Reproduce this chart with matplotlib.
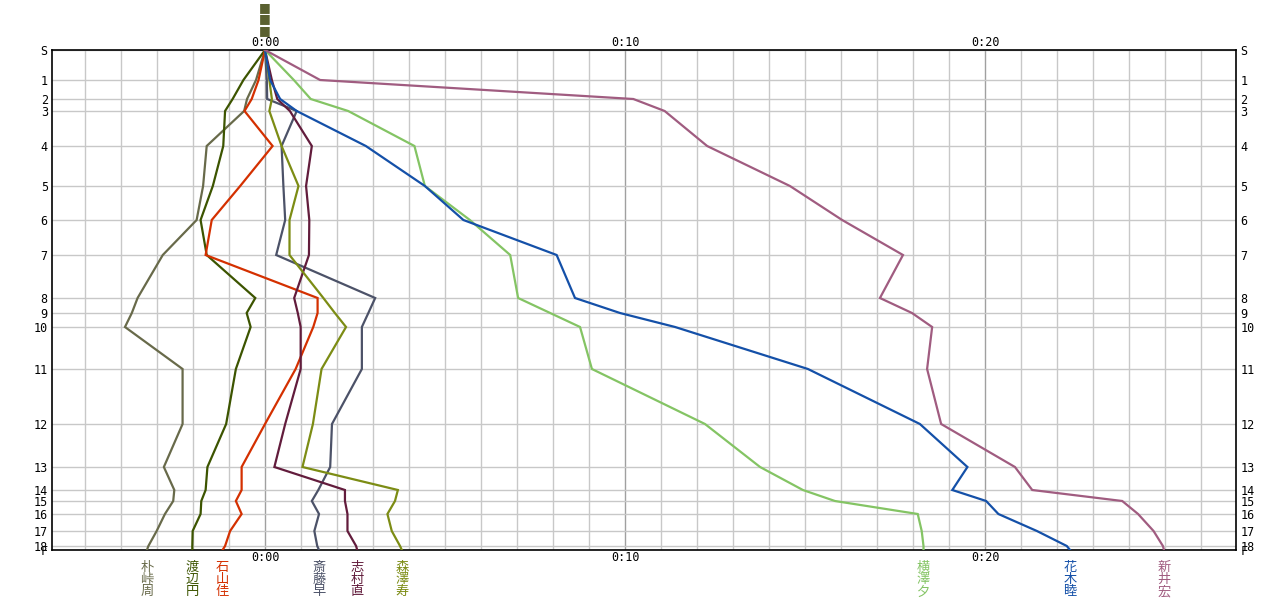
import matplotlib
matplotlib.use("Agg")
import matplotlib.pyplot as plt
import matplotlib.transforms as mtransforms
from matplotlib.ticker import MultipleLocator

# controls: label and cumulative position (leg-length scale, top = start)
ctrl_labels = ['S', '1', '2', '3', '4', '5', '6', '7', '8', '9', '10',
               '11', '12', '13', '14', '15', '16', '17', '18', 'F']
ctrl_pos = [0, 30, 49, 61, 96, 136, 170, 205, 248, 263, 277,
            319, 374, 417, 440, 451, 464, 481, 496, 500]

# runners: minutes behind/ahead of reference at each control
names = ['朴峠周', '渡辺円', '石山佳', '斎藤早', '志村直', '森澤寿', '横澤夕', '花木睦', '新井宏']
colors = ['#686a4a', '#3c5400', '#d43000', '#4c5268', '#621c3c',
          '#7c8c14', '#84c464', '#1450a8', '#a05c80']

bokutou = [0, -0.25, -0.5, -0.58, -1.62, -1.72, -1.9, -2.84, -3.54, -3.70, -3.89,
           -2.29, -2.29, -2.81, -2.52, -2.55, -2.78, -3.01, -3.24, -3.28]
watanabe = [0, -0.6, -0.9, -1.11, -1.16, -1.45, -1.79, -1.62, -0.27, -0.51, -0.40,
            -0.81, -1.08, -1.60, -1.65, -1.77, -1.79, -2.01, -2.02, -2.02]
ishiyama = [0, -0.18, -0.37, -0.57, 0.21, -0.69, -1.48, -1.65, 1.46, 1.46, 1.34,
            0.85, 0.0, -0.65, -0.65, -0.81, -0.65, -0.97, -1.11, -1.18]
saitou = [0, 0.05, 0.06, 0.88, 0.46, 0.51, 0.56, 0.31, 3.06, 2.87, 2.69,
          2.69, 1.86, 1.81, 1.48, 1.30, 1.50, 1.37, 1.45, 1.50]
shimura = [0, 0.19, 0.34, 0.69, 1.30, 1.14, 1.23, 1.22, 0.81, 0.91, 0.99,
           0.99, 0.56, 0.26, 2.22, 2.22, 2.29, 2.29, 2.53, 2.56]
morisawa = [0, 0.12, 0.19, 0.12, 0.46, 0.93, 0.68, 0.68, 1.62, 1.94, 2.25,
            1.57, 1.33, 1.04, 3.69, 3.61, 3.40, 3.52, 3.75, 3.80]
yokosawa = [0, 0.8, 1.27, 2.31, 4.15, 4.44, 5.69, 6.81, 7.03, 7.92, 8.75,
            9.08, 12.22, 13.75, 14.94, 15.83, 18.13, 18.24, 18.29, 18.29]
hanaki = [0, 0.14, 0.42, 0.88, 2.8, 4.44, 5.51, 8.1, 8.61, 9.86, 11.39,
          15.08, 18.19, 19.51, 19.09, 20.03, 20.37, 21.44, 22.27, 22.36]
arai = [0, 1.53, 10.23, 11.1, 12.28, 14.58, 16.03, 17.72, 17.08, 17.97, 18.53,
        18.39, 18.78, 20.83, 21.31, 23.81, 24.25, 24.68, 24.94, 24.97]
series = [bokutou, watanabe, ishiyama, saitou, shimura, morisawa, yokosawa, hanaki, arai]

x_ticks = [0, 10, 20]
x_tick_labels = ['0:00', '0:10', '0:20']

plt.rcParams['font.family'] = ['Noto Sans CJK JP', 'DejaVu Sans']

fig = plt.figure(figsize=(12.88, 6.0), dpi=100)
ax = fig.add_axes([52 / 1288, 50 / 600, 1184 / 1288, 500 / 600])

ax.set_xlim(-5.917, 26.97)
ax.set_ylim(ctrl_pos[-1], ctrl_pos[0])

# grid
ax.xaxis.set_minor_locator(MultipleLocator(1))
ax.grid(which='minor', axis='x', color='#c8c8c8', lw=1.0, zorder=0)
ax.set_xticks(x_ticks)
ax.set_xticklabels(x_tick_labels, family='DejaVu Sans Mono', fontsize=8.5)
ax.grid(which='major', axis='x', color='#a0a0a0', lw=1.0, zorder=0)
ax.set_yticks(ctrl_pos)
ax.set_yticklabels(ctrl_labels, family='DejaVu Sans Mono', fontsize=8.5)
ax.grid(which='major', axis='y', color='#c8c8c8', lw=1.0, zorder=0)

ax.tick_params(which='both', length=0)
ax.tick_params(axis='x', top=True, labeltop=True, pad=1)
ax.tick_params(axis='y', right=True, labelright=True, pad=3)
for sp in ax.spines.values():
    sp.set_color('black')
    sp.set_linewidth(1.2)

for vals, c in zip(series, colors):
    ax.plot(vals, ctrl_pos, color=c, lw=1.6, solid_joinstyle='miter', zorder=3)

# runner names stacked vertically under their finish
trans = mtransforms.blended_transform_factory(ax.transData, fig.transFigure)
for vals, name, c in zip(series, names, colors):
    ax.text(vals[-1], (600 - 561) / 600, '\n'.join(name), transform=trans,
            ha='center', va='top', fontsize=9.5, color=c, linespacing=0.92)

# little marker above the start column
for yc in (7.5, 19, 30.5):
    ax.text(0, (600 - yc) / 600, '■', transform=trans, ha='center',
            va='center', fontsize=9, color='#5a6030', family='DejaVu Sans')

fig.savefig('out.png', dpi=100)
